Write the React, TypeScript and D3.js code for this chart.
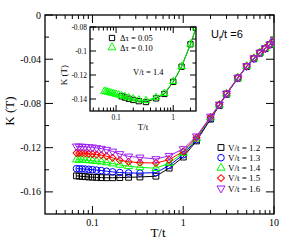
import React, { useRef, useEffect } from "react";
import { select, scaleLog, scaleLinear, line, symbol, symbolSquare, symbolCircle, symbolTriangle } from "d3";

// temperatures of the main plot (T/t)
const temps = [0.0667, 0.0714, 0.0769, 0.0833, 0.0909, 0.1, 0.1111, 0.125, 0.1429, 0.1667, 0.2, 0.25, 0.3333,
  0.5, 0.7, 1, 1.4, 2, 2.5, 3, 4, 5, 6, 7, 8, 9, 10];

// K(T) for each V/t
const k12 = [-0.1455, -0.1457, -0.146, -0.1462, -0.1465, -0.1467, -0.1469, -0.1471, -0.1472, -0.1472, -0.1471, -0.1468, -0.1465,
  -0.1458, -0.1385, -0.1285, -0.1139, -0.0942, -0.0818, -0.0717, -0.0572, -0.0467, -0.0396, -0.0345, -0.0305, -0.0269, -0.0243];
const k13 = [-0.139, -0.1391, -0.1392, -0.1394, -0.1396, -0.1399, -0.1403, -0.1407, -0.1413, -0.1419, -0.1425, -0.1429, -0.143,
  -0.1426, -0.1362, -0.1264, -0.1127, -0.0935, -0.0815, -0.0715, -0.057, -0.0465, -0.0394, -0.0343, -0.0303, -0.0267, -0.0241];
const k14 = [-0.1309, -0.131, -0.1311, -0.1313, -0.1315, -0.1318, -0.1322, -0.1327, -0.1334, -0.1344, -0.1356, -0.1368, -0.1378,
  -0.1386, -0.1339, -0.1248, -0.1118, -0.093, -0.0813, -0.0713, -0.0569, -0.0464, -0.0393, -0.0342, -0.0302, -0.0266, -0.024];
const k15 = [-0.1248, -0.1249, -0.125, -0.1252, -0.1255, -0.1258, -0.1263, -0.1268, -0.1278, -0.1292, -0.1313, -0.1328, -0.1336,
  -0.1339, -0.1309, -0.1234, -0.1109, -0.0925, -0.0811, -0.0711, -0.0567, -0.0462, -0.0391, -0.034, -0.0301, -0.0265, -0.0239];
const k16 = [-0.1188, -0.1189, -0.119, -0.1192, -0.1194, -0.1197, -0.1203, -0.1209, -0.1218, -0.1234, -0.1257, -0.1279, -0.1288,
  -0.1303, -0.1273, -0.1212, -0.1097, -0.0918, -0.0809, -0.0709, -0.0566, -0.0461, -0.039, -0.0339, -0.03, -0.0264, -0.0238];

const vLabels = ["V/t = 1.2", "V/t = 1.3", "V/t = 1.4", "V/t = 1.5", "V/t = 1.6"];

// inset: V/t = 1.4, two time steps
const tInset010 = [0.0625, 0.0667, 0.0714, 0.0769, 0.0833, 0.0909, 0.1, 0.1111, 0.125, 0.1429, 0.1667, 0.2, 0.25, 0.3333,
  0.5, 0.7, 1, 1.4, 2, 2.5];
const kInset010 = [-0.1335, -0.1338, -0.1342, -0.1346, -0.135, -0.1355, -0.136, -0.1366, -0.1372, -0.138, -0.1389, -0.1398, -0.1407, -0.1413,
  -0.1387, -0.1353, -0.1253, -0.1128, -0.0942, -0.0805];
const tInset005 = [0.125, 0.1429, 0.1667, 0.2, 0.25, 0.3333, 0.5, 0.7, 1, 1.4, 2, 2.5];
const kInset005 = [-0.1378, -0.1388, -0.1398, -0.1408, -0.1418, -0.1425, -0.1395, -0.1358, -0.1257, -0.1131, -0.0944, -0.0808];
const insetLabels = ["\u0394\u03c4 = 0.05", "\u0394\u03c4 = 0.10"];

const serif = "'Liberation Serif', 'Times New Roman', serif";
const sans = "'Liberation Sans', Arial, sans-serif";

const markerPath = (kind, size) => {
  if (kind === "square") return symbol(symbolSquare, size)();
  if (kind === "circle") return symbol(symbolCircle, size)();
  if (kind === "diamond") return symbol(symbolSquare, size)();
  return symbol(symbolTriangle, size)();
};
const markerRotate = (kind) => (kind === "diamond" ? 45 : kind === "down" ? 180 : 0);

// frame with inward ticks on all four sides
function drawFrame(g, x, y, xMajor, xMinor, yMajor, yMinor, majLen, minLen) {
  const [x0, x1] = x.range();
  const [y0, y1] = y.range(); // y0 bottom, y1 top
  const tk = g.append("g").attr("stroke", "black").attr("stroke-width", 1);
  const vt = (v, len) => {
    tk.append("line").attr("x1", x(v)).attr("x2", x(v)).attr("y1", y0).attr("y2", y0 - len);
    tk.append("line").attr("x1", x(v)).attr("x2", x(v)).attr("y1", y1).attr("y2", y1 + len);
  };
  const ht = (v, len) => {
    tk.append("line").attr("y1", y(v)).attr("y2", y(v)).attr("x1", x0).attr("x2", x0 + len);
    tk.append("line").attr("y1", y(v)).attr("y2", y(v)).attr("x1", x1).attr("x2", x1 - len);
  };
  xMajor.forEach(v => vt(v, majLen));
  xMinor.forEach(v => vt(v, minLen));
  yMajor.forEach(v => ht(v, majLen));
  yMinor.forEach(v => ht(v, minLen));
  g.append("rect").attr("x", x0).attr("y", y1).attr("width", x1 - x0).attr("height", y0 - y1)
    .attr("fill", "none").attr("stroke", "black").attr("stroke-width", 1.3);
}

function drawSeries(g, x, y, ts, ks, color, kind, size) {
  const path = line().x((d, i) => x(ts[i])).y(d => y(d));
  g.append("path").datum(ks).attr("d", path).attr("fill", "none").attr("stroke", color).attr("stroke-width", 1);
  g.selectAll(null).data(ks).join("path")
    .attr("d", markerPath(kind, size))
    .attr("transform", (d, i) => `translate(${x(ts[i])},${y(d)}) rotate(${markerRotate(kind)})`)
    .attr("fill", "none").attr("stroke", color).attr("stroke-width", 1);
}

const App = () => {
  const svgRef = useRef(null);

  useEffect(() => {
    const svg = select(svgRef.current);
    svg.selectAll("*").remove();

    // ---- main plot ----
    const x = scaleLog().domain([0.03, 10]).range([45, 274]);
    const y = scaleLinear().domain([-0.18, 0]).range([214, 15]);

    svg.append("clipPath").attr("id", "clipMain").append("rect")
      .attr("x", 45).attr("y", 15).attr("width", 229).attr("height", 199);

    const main = svg.append("g");
    drawFrame(main, x, y, [0.1, 1, 10],
      [0.04, 0.05, 0.06, 0.07, 0.08, 0.09, 0.2, 0.3, 0.4, 0.5, 0.6, 0.7, 0.8, 0.9, 2, 3, 4, 5, 6, 7, 8, 9],
      [0, -0.04, -0.08, -0.12, -0.16], [-0.02, -0.06, -0.1, -0.14], 8, 4);

    main.append("g").selectAll("text").data([0, -0.04, -0.08, -0.12, -0.16]).join("text")
      .attr("x", 41).attr("y", d => y(d) + 3.5).attr("text-anchor", "end")
      .attr("font-family", serif).attr("font-size", 10).text(d => (d === 0 ? "0" : String(d)));
    main.append("g").selectAll("text").data([0.1, 1, 10]).join("text")
      .attr("x", d => x(d)).attr("y", 226).attr("text-anchor", "middle")
      .attr("font-family", serif).attr("font-size", 10).text(d => String(d));

    main.append("text").attr("transform", "translate(14,111) rotate(-90)").attr("text-anchor", "middle")
      .attr("font-family", serif).attr("font-size", 13).text("K (T)");
    main.append("text").attr("x", 158).attr("y", 237).attr("text-anchor", "middle")
      .attr("font-family", serif).attr("font-size", 13).text("T/t");

    const ut = main.append("text").attr("x", 211).attr("y", 38).attr("font-family", sans).attr("font-size", 11);
    ut.append("tspan").text("U");
    ut.append("tspan").attr("dy", 2.5).attr("font-size", 7.5).text("f");
    ut.append("tspan").attr("dy", -2.5).text("/t =6");

    const series = [
      { ks: k12, color: "#000000", kind: "square", size: 34 },
      { ks: k13, color: "#0000ff", kind: "circle", size: 34 },
      { ks: k14, color: "#00ff00", kind: "up", size: 28 },
      { ks: k15, color: "#ff0000", kind: "diamond", size: 24 },
      { ks: k16, color: "#a020f0", kind: "down", size: 28 },
    ];
    const data = main.append("g").attr("clip-path", "url(#clipMain)");
    series.forEach(s => drawSeries(data, x, y, temps, s.ks, s.color, s.kind, s.size));

    // legend
    const leg = main.append("g");
    series.forEach((s, i) => {
      const ly = 147.5 + i * 10.2;
      leg.append("path").attr("d", markerPath(s.kind, s.size))
        .attr("transform", `translate(221,${ly}) rotate(${markerRotate(s.kind)})`)
        .attr("fill", "none").attr("stroke", s.color).attr("stroke-width", 1);
      leg.append("text").attr("x", 228).attr("y", ly + 3.2).attr("font-family", serif).attr("font-size", 9)
        .text(vLabels[i]);
    });

    // ---- inset ----
    const xi = scaleLog().domain([0.035, 2.5]).range([90, 196]);
    const yi = scaleLinear().domain([-0.15, -0.08]).range([111, 27]);

    const inset = svg.append("g");
    inset.append("rect").attr("x", 90).attr("y", 27).attr("width", 106).attr("height", 84).attr("fill", "white");
    svg.append("clipPath").attr("id", "clipInset").append("rect")
      .attr("x", 90).attr("y", 27).attr("width", 106).attr("height", 84);

    const idata = inset.append("g").attr("clip-path", "url(#clipInset)");
    drawSeries(idata, xi, yi, tInset005, kInset005, "#000000", "square", 28);
    drawSeries(idata, xi, yi, tInset010, kInset010, "#00ff00", "up", 24);

    drawFrame(inset, xi, yi, [0.1, 1],
      [0.04, 0.05, 0.06, 0.07, 0.08, 0.09, 0.2, 0.3, 0.4, 0.5, 0.6, 0.7, 0.8, 0.9, 2],
      [-0.08, -0.1, -0.12, -0.14], [-0.09, -0.11, -0.13], 6, 3.5);

    inset.append("g").selectAll("text").data([-0.08, -0.1, -0.12, -0.14]).join("text")
      .attr("x", 87).attr("y", d => yi(d) + 2.5).attr("text-anchor", "end")
      .attr("font-family", serif).attr("font-size", 7.5).text(d => String(d));
    inset.append("g").selectAll("text").data([0.1, 1]).join("text")
      .attr("x", d => xi(d)).attr("y", 120).attr("text-anchor", "middle")
      .attr("font-family", serif).attr("font-size", 7.5).text(d => String(d));
    inset.append("text").attr("transform", "translate(67,75) rotate(-90)").attr("text-anchor", "middle")
      .attr("font-family", serif).attr("font-size", 9).text("K (T)");
    inset.append("text").attr("x", 143).attr("y", 130).attr("text-anchor", "middle")
      .attr("font-family", serif).attr("font-size", 9).text("T/t");

    const ileg = [
      { color: "#000000", kind: "square", size: 28 },
      { color: "#00ff00", kind: "up", size: 28 },
    ];
    ileg.forEach((s, i) => {
      const ly = 38 + i * 9.5;
      inset.append("path").attr("d", markerPath(s.kind, s.size))
        .attr("transform", `translate(112,${ly})`)
        .attr("fill", "none").attr("stroke", s.color).attr("stroke-width", 1);
      inset.append("text").attr("x", 120).attr("y", ly + 3).attr("font-family", serif).attr("font-size", 8.5)
        .text(insetLabels[i]);
    });
    inset.append("text").attr("x", 133).attr("y", 75).attr("font-family", serif).attr("font-size", 8.5)
      .text("V/t = 1.4");
  }, []);

  return (
    <svg ref={svgRef} width={289} height={241} style={{ display: "block", position: "absolute", left: 0, top: 0, background: "white" }} />
  );
};

export default App;
